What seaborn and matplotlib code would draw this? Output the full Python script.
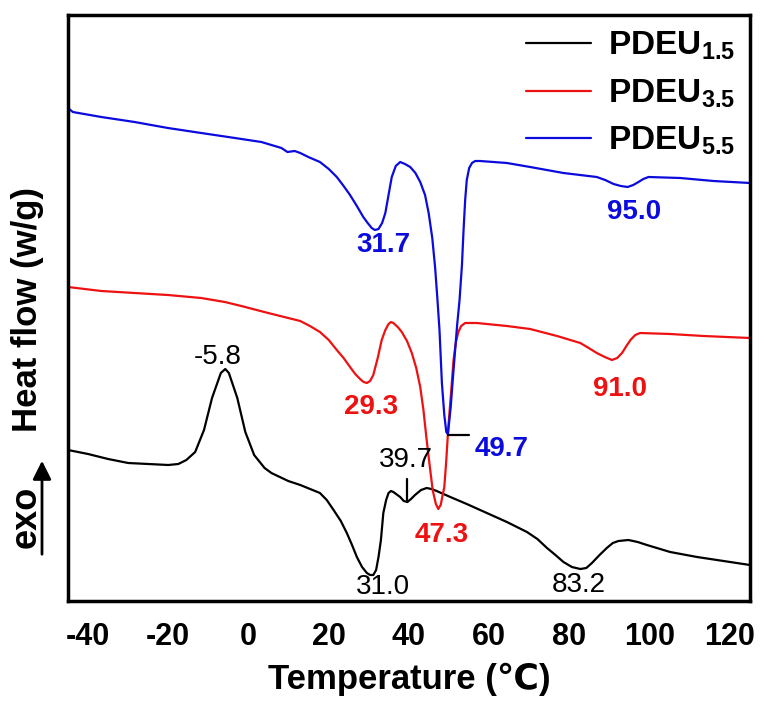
import seaborn as sns
import matplotlib.pyplot as plt
import pandas as pd

# DSC curves (temperature in C, heat flow in arbitrary units)
t15 = [-45, -40, -35, -30, -25, -20, -17.5, -15.5, -13.3, -11.1, -9.1, -6.9, -5.8, -4.9, -2.8, -0.8, 1.4, 4.0, 5.7,
       9.9, 12.9, 17.8, 19.5, 21.2, 23.0, 24.5, 25.8, 27.0, 28.3, 29.5, 30.3, 31.1, 31.8, 32.4, 33.0, 33.6, 34.3,
       34.9, 35.5, 36.1, 37.8, 38.7, 39.6, 40.5, 41.5, 43.0, 44.4, 45.6, 46.9, 50.3, 54.4, 59.4, 64.4, 69.4, 72.0,
       74.4, 76.5, 78.5, 80.6, 82.7, 84.2, 85.6, 87.5, 89.3, 90.8, 92.2, 94.7, 97.0, 99.3, 105.1, 111.8, 118.4, 125]
hf15 = [150, 146, 141, 137, 136, 135, 136, 140, 148, 170, 202, 227, 231, 227, 202, 168, 145, 132, 127,
        119, 115, 107, 100, 90, 79, 67, 55, 43, 33, 27, 25, 25, 30, 43, 60, 87, 100,
        107, 109, 108, 103, 99, 98, 101, 105, 110, 112, 111, 109, 103, 96, 87, 78, 68, 61,
        52, 45, 38, 33, 31, 32, 37, 45, 52, 57, 59, 60, 58, 55, 48, 43, 39, 35]

t35 = [-45, -36.7, -28.4, -20.1, -11.8, -5.9, -1.8, 4.9, 12.9, 15.3, 17.8, 20.0, 22.0, 23.7, 25.3, 26.6, 27.8,
       28.7, 29.5, 30.3, 31.1, 32.2, 33.2, 34.1, 34.9, 35.5, 36.1, 37.2, 38.2, 39.5, 40.7, 41.8, 42.8, 43.6,
       44.4, 45.2, 45.9, 46.7, 47.3, 47.9, 48.8, 49.3, 49.8, 50.5, 51.1, 51.7, 52.3, 53.0, 54.0, 56.9, 64.4,
       70.2, 76.9, 82.7, 84.8, 86.8, 88.8, 90.6, 91.9, 93.1, 94.2, 95.2, 96.4, 97.6, 105.1, 113.4, 125]
hf35 = [313, 309, 307, 305, 302, 298, 294, 287, 279, 274, 268, 260, 250, 242, 233, 226, 221,
        218, 217, 219, 225, 242, 260, 270, 276, 278, 277, 273, 268, 259, 247, 232, 213, 190,
        160, 133, 110, 96, 91, 95, 113, 140, 173, 208, 240, 258, 268, 274, 277, 277, 274,
        271, 264, 257, 252, 247, 243, 240, 242, 247, 254, 260, 265, 267, 266, 264, 262]

t55 = [-45, -43.8, -36.7, -28.4, -20.1, -11.8, -3.4, 3.2, 8.2, 9.7, 11.5, 12.9, 14.9, 17.8, 20.0, 22.0, 23.7,
       25.3, 27.0, 28.6, 29.7, 30.7, 31.5, 32.4, 33.3, 34.1, 34.9, 35.7, 36.7, 37.8, 39.0, 40.3, 41.6, 42.8,
       44.0, 44.9, 45.8, 46.5, 47.1, 47.6, 48.2, 48.8, 49.3, 49.7, 50.4, 51.0, 51.5, 52.0, 52.6, 53.2, 53.6,
       54.0, 54.4, 55.0, 55.7, 56.5, 57.7, 64.4, 70.2, 78.5, 86.8, 88.9, 91.0, 92.8, 94.5, 95.9, 97.2, 98.4,
       99.7, 107.6, 115.9, 125]
hf55 = [492, 488, 483, 478, 472, 467, 462, 458, 452, 448, 449, 447, 443, 438, 431, 423, 414,
        405, 394, 383, 377, 372, 370, 371, 377, 387, 405, 423, 434, 438, 436, 433, 427, 418,
        405, 387, 362, 333, 300, 270, 217, 185, 168, 166, 193, 225, 250, 275, 300, 335, 370,
        400, 420, 432, 437, 439, 439, 437, 433, 427, 423, 420, 416, 414, 413, 415, 418, 421,
        423, 422, 419, 417]

names = ['1.5', '3.5', '5.5']
colors = ['black', '#ee1111', '#0b0bdd']

# peak labels: (text, T, y, colour index, bold)
peaks = [('-5.8', -7.6, 243, 0, False), ('39.7', 39.3, 140, 0, False), ('31.0', 33.5, 13, 0, False),
         ('83.2', 82.3, 15, 0, False), ('29.3', 30.5, 193, 1, True), ('47.3', 48.2, 65, 1, True),
         ('91.0', 92.5, 211, 1, True), ('31.7', 33.6, 355, 2, True), ('49.7', 63.1, 151, 2, True),
         ('95.0', 96.1, 388, 2, True)]

sns.set_style('white', {'text.color': 'black', 'axes.labelcolor': 'black', 'xtick.color': 'black',
                        'axes.edgecolor': 'black'})
plt.rcParams['font.family'] = ['Liberation Sans', 'DejaVu Sans']
plt.rcParams['axes.unicode_minus'] = False
plt.rcParams['mathtext.fontset'] = 'custom'
plt.rcParams['mathtext.rm'] = 'Liberation Sans:bold'
plt.rcParams['mathtext.it'] = 'Liberation Sans:bold'
plt.rcParams['mathtext.bf'] = 'Liberation Sans:bold'

fig, ax = plt.subplots(figsize=(7.64, 7.13), dpi=100)
fig.subplots_adjust(left=68/764, right=750/764, bottom=1-601/713, top=1-15/713)

for t, hf, n, c in zip([t15, t35, t55], [hf15, hf35, hf55], names, colors):
    df = pd.DataFrame({'T': t, 'hf': hf})
    sns.lineplot(data=df, x='T', y='hf', color=c, lw=1.6, ax=ax, label=r'PDEU$_{%s}$' % n)

for txt, tx, ty, ci, b in peaks:
    ax.text(tx, ty, txt, color=colors[ci], fontsize=20, ha='center', va='center',
            fontweight='bold' if b else 'normal')

# marker lines for 39.7 and 49.7
ax.plot([39.6, 39.6], [98, 121], color='black', lw=1.6)
ax.plot([49.6, 55.0], [165, 165], color='black', lw=1.6)

ax.set_xlim(-45, 125)
ax.set_ylim(-1, 585)
ax.set_xticks(range(-40, 121, 20))
ax.set_xticks(range(-30, 121, 20), minor=True)
ax.set_yticks([])
ax.tick_params(axis='x', which='major', direction='out', length=5, width=2, pad=10, labelsize=22,
               colors='black')
ax.tick_params(axis='x', which='minor', direction='out', length=3, width=2, colors='black')
for lab in ax.get_xticklabels():
    lab.set_fontweight('bold')
for s in ax.spines.values():
    s.set_linewidth(2.5)
    s.set_color('black')

ax.set_xlabel('Temperature (℃)', fontsize=25, fontweight='bold', labelpad=8, color='black')
ax.set_ylabel('')
fig.text(27/764, 1-310/713, 'Heat flow (w/g)', rotation=90, fontsize=25, fontweight='bold',
         ha='center', va='center', color='black')
fig.text(26/764, 1-517/713, 'exo', rotation=90, fontsize=26, fontweight='bold', ha='center', va='center',
         color='black')
ax.annotate('', xy=(42, 713-458), xytext=(42, 713-557), xycoords='figure pixels',
            arrowprops=dict(arrowstyle='-|>', lw=2, color='black', mutation_scale=28))

leg = ax.legend(loc='upper right', frameon=False, prop={'size': 24, 'weight': 'bold'}, handlelength=1.95,
                handletextpad=0.5, labelspacing=0.45, borderaxespad=0.05)
for line in leg.get_lines():
    line.set_linewidth(1.6)
for txt in leg.get_texts():
    txt.set_color('black')

fig.savefig('out.png', dpi=100)
